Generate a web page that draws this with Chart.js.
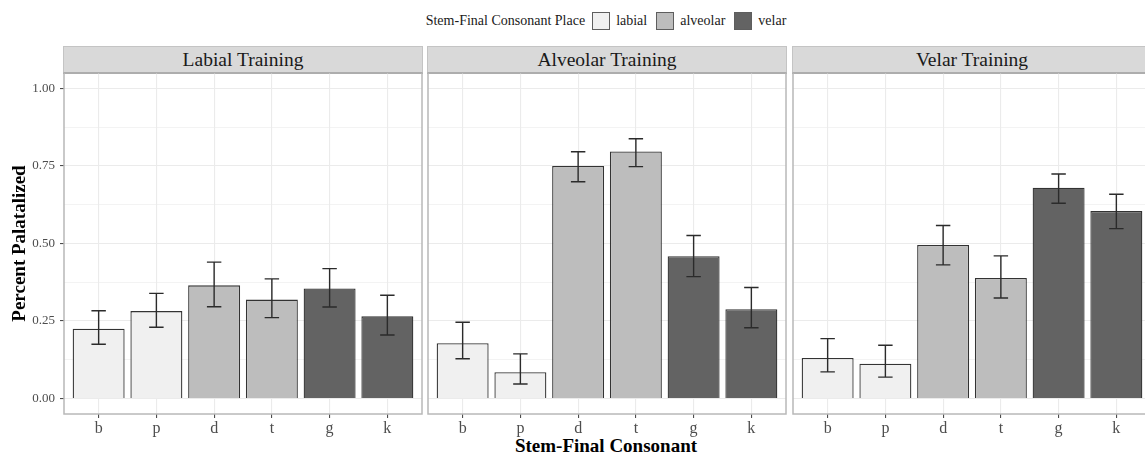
<!DOCTYPE html>
<html>
<head>
<meta charset="utf-8">
<script src="https://cdn.jsdelivr.net/npm/chart.js@4.4.1/dist/chart.umd.min.js"></script>
<style>
  html, body { margin: 0; padding: 0; background: #fff; }
  body { width: 1145px; height: 455px; overflow: hidden; position: relative; font-family: "Liberation Serif", "DejaVu Serif", serif; }
  .panel-canvas { position: absolute; }
  .strip {
    position: absolute; top: 46px; height: 25px; box-sizing: content-box;
    background: #D9D9D9; border: 1px solid #C4C4C4; border-bottom: 2px solid #8F8F8F;
    text-align: center; line-height: 26px; font-size: 19.5px; color: #1A1A1A;
  }
  .legend {
    position: absolute; top: 11px; left: 0; width: 1214px;
    display: flex; justify-content: center; align-items: center;
    font-size: 14px; color: #1A1A1A; height: 19px;
  }
  .legend .key { width: 16px; height: 16px; border: 1.5px solid #5E5E5E; margin: 0 6px 0 7px; }
  .legend .lab { margin-right: 2px; }
  .xtitle {
    position: absolute; top: 435px; left: 0; width: 1212px; text-align: center;
    font-weight: bold; font-size: 19px; line-height: 22px; color: #000;
  }
</style>
</head>
<body>
<div class="legend" id="legend"></div>
<div class="xtitle">Stem-Final Consonant</div>
<script>
// Consonants on the x axis and the place of articulation of each one
const categories = ['b', 'p', 'd', 't', 'g', 'k'];
const places = ['labial', 'labial', 'alveolar', 'alveolar', 'velar', 'velar'];
const placeNames = ['labial', 'alveolar', 'velar'];
const placeColors = { labial: '#F0F0F0', alveolar: '#BDBDBD', velar: '#636363' };

// Facet titles
const panelTitles = ['Labial Training', 'Alveolar Training', 'Velar Training'];

// Proportion palatalized, with lower / upper error limits, per training group
const labialMean  = [0.225, 0.282, 0.365, 0.319, 0.355, 0.265];
const labialLow   = [0.175, 0.230, 0.296, 0.261, 0.295, 0.205];
const labialHigh  = [0.283, 0.339, 0.440, 0.386, 0.419, 0.333];

const alveolarMean = [0.178, 0.085, 0.750, 0.797, 0.459, 0.288];
const alveolarLow  = [0.128, 0.047, 0.699, 0.748, 0.393, 0.228];
const alveolarHigh = [0.246, 0.144, 0.796, 0.838, 0.526, 0.358];

const velarMean = [0.131, 0.112, 0.495, 0.389, 0.680, 0.605];
const velarLow  = [0.086, 0.069, 0.431, 0.324, 0.630, 0.548];
const velarHigh = [0.193, 0.172, 0.558, 0.460, 0.724, 0.659];

// Y axis: labelled major ticks and unlabelled minor grid lines
const yMajorTicks = [0, 0.25, 0.5, 0.75, 1];
const yMinorTicks = [0.125, 0.375, 0.625, 0.875];

const panels = [
  { title: panelTitles[0], mean: labialMean,   low: labialLow,   high: labialHigh,   left: 64 },
  { title: panelTitles[1], mean: alveolarMean, low: alveolarLow, high: alveolarHigh, left: 428 },
  { title: panelTitles[2], mean: velarMean,    low: velarLow,    high: velarHigh,    left: 793 }
];

const PANEL_W = 358;
const PANEL_TOP = 73;
const PANEL_BOTTOM = 414;
const YAXIS_W = 64;
const XAXIS_H = 41;
const PAD = 2;

// Legend
const legend = document.getElementById('legend');
const lt = document.createElement('span');
lt.textContent = 'Stem-Final Consonant Place';
legend.appendChild(lt);
placeNames.forEach(p => {
  const k = document.createElement('span');
  k.className = 'key';
  k.style.background = placeColors[p];
  legend.appendChild(k);
  const l = document.createElement('span');
  l.className = 'lab';
  l.textContent = p;
  legend.appendChild(l);
});

// Error bars and panel frame
const errorBarPlugin = {
  id: 'errorBars',
  afterDatasetsDraw(chart, args, opts) {
    const { ctx, scales: { x, y } } = chart;
    ctx.save();
    ctx.strokeStyle = '#2B2B2B';
    ctx.lineWidth = 1.4;
    const half = (x.getPixelForValue(0.125) - x.getPixelForValue(0));
    opts.low.forEach((lo, i) => {
      const hi = opts.high[i];
      const px = x.getPixelForValue(i);
      const pl = y.getPixelForValue(lo);
      const ph = y.getPixelForValue(hi);
      ctx.beginPath();
      ctx.moveTo(px, pl); ctx.lineTo(px, ph);
      ctx.moveTo(px - half, pl); ctx.lineTo(px + half, pl);
      ctx.moveTo(px - half, ph); ctx.lineTo(px + half, ph);
      ctx.stroke();
    });
    ctx.restore();
  },
  afterDraw(chart) {
    const { ctx, chartArea: a } = chart;
    ctx.save();
    ctx.strokeStyle = '#B8B8B8';
    ctx.lineWidth = 1.5;
    ctx.strokeRect(a.left, a.top, a.right - a.left, a.bottom - a.top);
    ctx.restore();
  }
};

panels.forEach((p, idx) => {
  const first = idx === 0;
  // strip
  const strip = document.createElement('div');
  strip.className = 'strip';
  strip.style.left = (p.left - 1) + 'px';
  strip.style.width = PANEL_W + 'px';
  strip.textContent = p.title;
  document.body.appendChild(strip);

  const canvas = document.createElement('canvas');
  canvas.className = 'panel-canvas';
  const leftW = first ? YAXIS_W : PAD;
  const cw = leftW + PANEL_W + PAD;
  const ch = PAD + (PANEL_BOTTOM - PANEL_TOP) + XAXIS_H;
  canvas.width = cw; canvas.height = ch;
  canvas.style.width = cw + 'px'; canvas.style.height = ch + 'px';
  canvas.style.left = (p.left - leftW) + 'px';
  canvas.style.top = (PANEL_TOP - PAD) + 'px';
  document.body.appendChild(canvas);

  new Chart(canvas.getContext('2d'), {
    type: 'bar',
    data: {
      datasets: [{
        data: categories.map((c, i) => ({ x: i, y: p.mean[i] })),
        backgroundColor: places.map(pl => placeColors[pl]),
        borderColor: '#333333',
        borderWidth: 1.3,
        barPercentage: 0.9,
        categoryPercentage: 1.0
      }]
    },
    options: {
      responsive: false,
      animation: false,
      devicePixelRatio: 1,
      layout: { padding: { left: first ? 0 : PAD, right: PAD, top: PAD, bottom: 0 } },
      plugins: {
        legend: { display: false },
        tooltip: { enabled: false },
        errorBars: { low: p.low, high: p.high }
      },
      scales: {
        x: {
          type: 'linear',
          offset: false,
          min: -0.6,
          max: 5.6,
          afterBuildTicks: s => { s.ticks = categories.map((c, i) => ({ value: i })); },
          afterFit: s => { s.height = XAXIS_H; s.paddingLeft = 0; s.paddingRight = 0; },
          ticks: {
            callback: v => categories[v],
            autoSkip: false,
            maxRotation: 0,
            padding: 1,
            color: '#4D4D4D',
            font: { family: 'Liberation Serif', size: 16 }
          },
          grid: { offset: false, color: '#EBEBEB', lineWidth: 1.1, tickColor: '#4D4D4D', tickLength: 4 },
          border: { display: false }
        },
        y: {
          type: 'linear',
          min: -0.05,
          max: 1.05,
          afterBuildTicks: s => {
            s.ticks = yMajorTicks.concat(yMinorTicks).sort((a, b) => a - b).map(v => ({ value: v }));
          },
          afterFit: s => { s.width = first ? YAXIS_W : 0; s.paddingTop = 0; s.paddingBottom = 0; },
          ticks: {
            display: first,
            callback: v => yMajorTicks.includes(v) ? v.toFixed(2) : '',
            padding: 5,
            color: '#4D4D4D',
            font: { family: 'Liberation Serif', size: 13 }
          },
          grid: {
            color: '#EBEBEB',
            lineWidth: c => yMajorTicks.includes(c.tick.value) ? 1.1 : 0.6,
            tickColor: c => (first && yMajorTicks.includes(c.tick.value)) ? '#4D4D4D' : 'rgba(0,0,0,0)',
            tickLength: first ? 4 : 0
          },
          border: { display: false },
          title: {
            display: first,
            text: 'Percent Palatalized',
            color: '#000',
            font: { family: 'Liberation Serif', size: 19, weight: 'bold' },
            padding: { top: 9, bottom: 0 }
          }
        }
      }
    },
    plugins: [errorBarPlugin]
  });
});
</script>
</body>
</html>
